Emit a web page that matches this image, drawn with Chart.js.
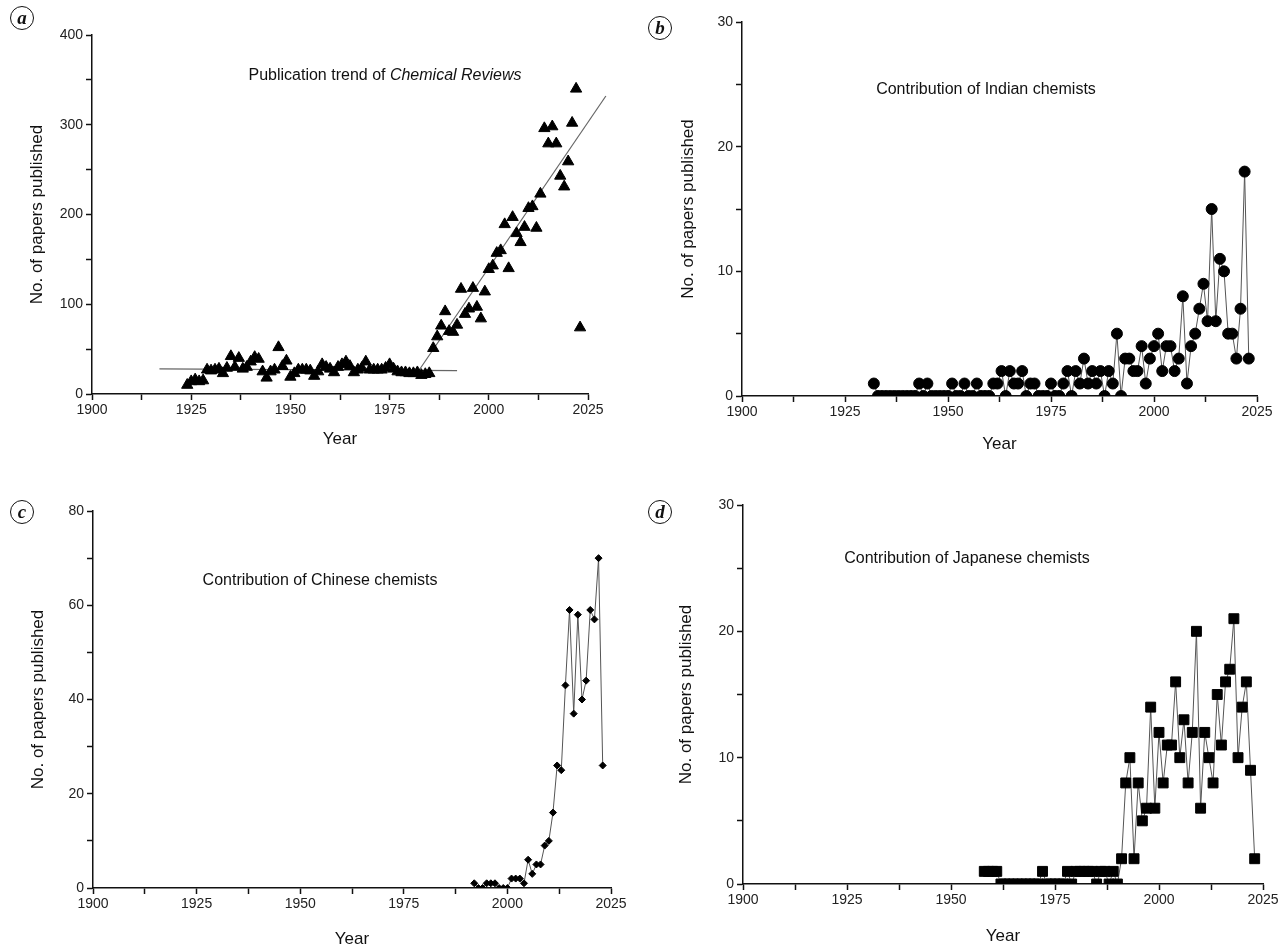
<!DOCTYPE html>
<html lang="en">
<head>
<meta charset="UTF-8">
<title>Chemical Reviews - publication trends</title>
<script src="https://cdn.jsdelivr.net/npm/chart.js"></script>
<style>
  * { margin: 0; padding: 0; box-sizing: border-box; }
  body {
    width: 1283px;
    height: 948px;
    position: relative;
    overflow: hidden;
    background: #fff;
    color: #111;
    font-family: "Liberation Sans", Arial, sans-serif;
  }
  canvas { position: absolute; }
  .tag {
    position: absolute;
    width: 24px;
    height: 24px;
    border: 1.5px solid #111;
    border-radius: 50%;
    text-align: center;
    line-height: 20px;
    font: italic bold 19px "Liberation Serif", "DejaVu Serif", serif;
  }
  .note {
    position: absolute;
    white-space: nowrap;
    font-size: 16px;
    transform: translate(-50%, -50%);
  }
</style>
</head>
<body>
<canvas id="chartA" width="641" height="474" style="left:0;top:0"></canvas>
<canvas id="chartB" width="642" height="474" style="left:641px;top:0"></canvas>
<canvas id="chartC" width="641" height="474" style="left:0;top:474px"></canvas>
<canvas id="chartD" width="642" height="474" style="left:641px;top:474px"></canvas>

<div class="tag" style="left:10px;top:6px">a</div>
<div class="tag" style="left:648px;top:16px">b</div>
<div class="tag" style="left:10px;top:500px">c</div>
<div class="tag" style="left:648px;top:500px">d</div>

<div class="note" style="left:385px;top:75px">Publication trend of <i>Chemical Reviews</i></div>
<div class="note" style="left:986px;top:89px">Contribution of Indian chemists</div>
<div class="note" style="left:320px;top:580px">Contribution of Chinese chemists</div>
<div class="note" style="left:967px;top:558px">Contribution of Japanese chemists</div>

<script>
// (a) all papers per year
const totalYears = [];
for (let y = 1924; y <= 2023; y++) totalYears.push(y);
const totalPapers = [
  10, 14, 16, 14, 15, 27, 26, 27, 28, 23,      // 1924-1933
  29, 42, 30, 40, 28, 30, 36, 41, 39, 25,      // 1934-1943
  18, 25, 27, 52, 31, 37, 19, 23, 27, 27,      // 1944-1953
  27, 26, 20, 25, 33, 30, 28, 24, 30, 33,      // 1954-1963
  36, 31, 24, 27, 29, 36, 27, 27, 27, 27,      // 1964-1973
  29, 33, 28, 25, 24, 24, 23, 23, 24, 21,      // 1974-1983
  22, 23, 51, 64, 76, 92, 70, 69, 77, 117,     // 1984-1993
  89, 95, 118, 97, 84, 114, 139, 143, 157, 160, // 1994-2003
  189, 140, 197, 179, 169, 186, 207, 209, 185, 223, // 2004-2013
  296, 279, 298, 279, 243, 231, 259, 302, 340, 74  // 2014-2023
];
// fitted lines drawn in (a)
const flatFitYears = [1917, 1992];
const flatFitValues = [28, 26];
const trendFitYears = [1982.5, 2029.5];
const trendFitValues = [27, 332];

// (b) Indian chemists
const indiaYears = [];
for (let y = 1932; y <= 2023; y++) indiaYears.push(y);
const indiaPapers = [
  1, 0, 0, 0, 0, 0, 0, 0, 0, 0, 0,             // 1932-1942
  1, 0, 1, 0, 0, 0, 0, 0,                      // 1943-1950
  1, 0, 0, 1, 0, 0, 1, 0, 0, 0,                // 1951-1960
  1, 1, 2, 0, 2, 1, 1, 2, 0, 1,                // 1961-1970
  1, 0, 0, 0, 1, 0, 0, 1, 2, 0,                // 1971-1980
  2, 1, 3, 1, 2, 1, 2, 0, 2, 1,                // 1981-1990
  5, 0, 3, 3, 2, 2, 4, 1, 3, 4,                // 1991-2000
  5, 2, 4, 4, 2, 3, 8, 1, 4, 5,                // 2001-2010
  7, 9, 6, 15, 6, 11, 10, 5, 5, 3,             // 2011-2020
  7, 18, 3                                     // 2021-2023
];

// (c) Chinese chemists
const chinaYears = [];
for (let y = 1992; y <= 2023; y++) chinaYears.push(y);
const chinaPapers = [
  1, 0, 0, 1, 1, 1, 0, 0, 0, 2,                // 1992-2001
  2, 2, 1, 6, 3, 5, 5, 9, 10, 16,              // 2002-2011
  26, 25, 43, 59, 37, 58, 40, 44, 59, 57,      // 2012-2021
  70, 26                                       // 2022-2023
];

// (d) Japanese chemists
const japanYears = [];
for (let y = 1958; y <= 2023; y++) japanYears.push(y);
const japanPapers = [
  1, 1, 1, 1, 0, 0, 0, 0, 0, 0,                // 1958-1967
  0, 0, 0, 0, 1, 0, 0, 0, 0, 0,                // 1968-1977
  1, 0, 1, 1, 1, 1, 1, 0, 1, 1,                // 1978-1987
  0, 1, 0, 2, 8, 10, 2, 8, 5, 6,               // 1988-1997
  14, 6, 12, 8, 11, 11, 16, 10, 13, 8,         // 1998-2007
  12, 20, 6, 12, 10, 8, 15, 11, 16, 17,        // 2008-2017
  21, 10, 14, 16, 9, 2                         // 2018-2023
];

const yearTicks = { min: 1900, max: 2025, step: 12.5, labelEvery: 25 };

const ink = '#111';
const tickFont = { family: '"Liberation Sans", Arial, sans-serif', size: 14 };
const titleFont = { family: '"Liberation Sans", Arial, sans-serif', size: 17, lineHeight: 1.2 };

function pts(xs, ys) {
  return xs.map((x, i) => ({ x: x, y: ys[i] }));
}

function makeScales(o) {
  return {
    x: {
      type: 'linear',
      min: yearTicks.min,
      max: yearTicks.max,
      afterFit: s => { s.height = o.xh; },
      border: { color: ink, width: 1.5 },
      grid: { drawOnChartArea: false, tickLength: 6, tickColor: ink, tickWidth: 1.5 },
      ticks: {
        stepSize: yearTicks.step,
        autoSkip: false,
        maxRotation: 0,
        padding: 2,
        color: '#222',
        font: tickFont,
        callback: v => (v % yearTicks.labelEvery === 0 ? String(v) : '')
      },
      title: {
        display: true,
        text: 'Year',
        color: ink,
        font: Object.assign({}, titleFont, { lineHeight: o.xlh || 1.2 }),
        padding: { top: 0, bottom: o.xpad }
      }
    },
    y: {
      type: 'linear',
      min: 0,
      max: o.ymax,
      afterFit: s => { s.width = o.yw; },
      border: { color: ink, width: 1.5 },
      grid: { drawOnChartArea: false, tickLength: 6, tickColor: ink, tickWidth: 1.5 },
      ticks: {
        stepSize: o.ymajor / 2,
        autoSkip: false,
        padding: 3,
        color: '#222',
        font: tickFont,
        callback: v => (v % o.ymajor === 0 ? String(v) : '')
      },
      title: {
        display: true,
        text: 'No. of papers published',
        color: ink,
        font: titleFont,
        padding: { top: o.ypad, bottom: 0 }
      }
    }
  };
}

function makeChart(id, datasets, o) {
  return new Chart(document.getElementById(id), {
    type: 'scatter',
    data: { datasets: datasets },
    options: {
      responsive: false,
      animation: false,
      layout: { padding: { left: 0, top: o.top, right: o.right, bottom: 0 } },
      plugins: { legend: { display: false }, tooltip: { enabled: false } },
      scales: makeScales(o)
    }
  });
}

function seriesLine(xs, ys, style, radius) {
  return {
    data: pts(xs, ys),
    showLine: true,
    borderColor: '#555',
    borderWidth: 1,
    pointStyle: style,
    pointRadius: radius,
    pointBackgroundColor: '#000',
    pointBorderColor: '#000',
    pointBorderWidth: 1
  };
}

makeChart('chartA', [
  {
    data: pts(totalYears, totalPapers),
    pointStyle: 'triangle',
    pointRadius: 6.5,
    pointBackgroundColor: '#000',
    pointBorderColor: '#000',
    pointBorderWidth: 1
  },
  {
    data: pts(flatFitYears, flatFitValues),
    showLine: true,
    pointRadius: 0,
    borderColor: '#666',
    borderWidth: 1.2,
    clip: false
  },
  {
    data: pts(trendFitYears, trendFitValues),
    showLine: true,
    pointRadius: 0,
    borderColor: '#666',
    borderWidth: 1.2,
    clip: false
  }
], { top: 35, right: 53, yw: 92, xh: 80, ymax: 400, ymajor: 100, ypad: 27, xpad: 24 });

makeChart('chartB', [seriesLine(indiaYears, indiaPapers, 'circle', 5.5)],
  { top: 22, right: 26, yw: 101, xh: 78, ymax: 30, ymajor: 10, ypad: 37, xpad: 19 });

makeChart('chartC', [seriesLine(chinaYears, chinaPapers, 'rectRot', 3.5)],
  { top: 37, right: 30, yw: 93, xh: 60, ymax: 80, ymajor: 20, ypad: 28, xpad: 0, xlh: 1 });

makeChart('chartD', [seriesLine(japanYears, japanPapers, 'rect', 7)],
  { top: 31, right: 20, yw: 102, xh: 64, ymax: 30, ymajor: 10, ypad: 35, xpad: 1 });
</script>
</body>
</html>
